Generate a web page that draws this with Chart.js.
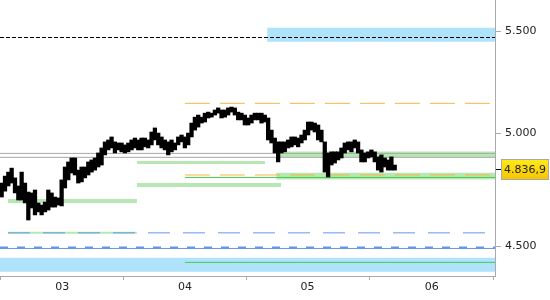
<!DOCTYPE html>
<html>
<head>
<meta charset="utf-8">
<script src="https://cdn.jsdelivr.net/npm/chart.js@4.4.0/dist/chart.umd.min.js"></script>
<style>
  body { margin: 0; background: #fff; }
  #wrap { width: 550px; height: 300px; }
</style>
</head>
<body>
<div id="wrap"><canvas id="priceChart" width="550" height="300"></canvas></div>
<script>
// bar highs / lows (one bar per index)
const highs = [4773,4804,4822,4840,4796,4760,4822,4773,4733,4729,4742,4685,4676,4689,4742,4729,4711,4707,4787,4845,
  4868,4886,4886,4831,4845,4845,4868,4877,4886,4909,4932,4960,4969,4983,4960,4955,4955,4946,4955,4969,
  4978,4969,4978,4978,4969,5006,5025,5001,4983,4969,4960,4969,4955,4983,4992,4983,5001,5048,5076,5086,
  5076,5095,5100,5095,5110,5120,5110,5110,5120,5124,5120,5100,5095,5086,5072,5086,5095,5095,5095,5086,
  5072,5015,4978,4960,4960,4960,4969,4983,4983,4978,4992,5015,5053,5053,5048,5039,5015,4960,4909,4914,
  4914,4914,4932,4955,4960,4960,4969,4960,4923,4909,4914,4923,4914,4891,4900,4886,4877,4891,4854];
const lows = [4711,4737,4760,4773,4729,4698,4698,4685,4611,4663,4633,4646,4633,4646,4654,4667,4667,4676,4672,4751,
  4787,4818,4809,4773,4778,4796,4809,4822,4831,4845,4854,4900,4923,4932,4909,4923,4914,4909,4914,4923,
  4932,4923,4923,4937,4932,4946,4969,4946,4932,4923,4900,4914,4923,4946,4960,4932,4946,4983,5015,5029,
  5048,5053,5072,5076,5086,5095,5072,5076,5086,5100,5086,5063,5063,5039,5039,5048,5063,5063,5048,5053,
  4969,4955,4909,4868,4909,4914,4932,4937,4946,4937,4955,4969,4992,5015,5006,4969,4960,4822,4800,4854,
  4863,4877,4886,4909,4923,4914,4932,4909,4868,4868,4886,4891,4868,4831,4822,4845,4831,4831,4831];
const lastClose = 4836.9;

const monthLabels = ['03', '04', '05', '06'];
const monthStart = [18.2, 55.0, 91.8, 129.1];
const yTicks = [4500, 5000, 5500];

// price zones: low, high, from, to
const blueZones = [[5447, 5518, 79.7, 148.1], [4393, 4451, -0.5, 148.1]];
const greenZones = [[4685, 4702, 1.9, 40.6], [4859, 4872, 40.6, 79.1], [4755, 4773, 40.6, 83.9],
  [4890, 4916, 82.4, 148.1], [4789, 4819, 82.4, 148.1]];

// single levels: value, from, to
const blackLevels = [[5468, -0.5, 148.1]];
const orangeLevels = [[5142, 55.0, 148.1], [4809, 55.0, 148.1]];
const grayLevels = [[4907, -0.5, 148.1], [4889, -0.5, 148.1]];
const greenLevels = [[4798, 55.0, 148.1], [4432, 55.0, 148.1]];
const paleGreenLevels = [[4556, 1.9, 40.6]];
const blueDashLevels = [[4556, 1.9, 146.6]];
const blueLevels = [[4490, -0.5, 148.1]];
const blueThickLevels = [[4494, -0.5, 148.1]];

function hline(l, color, width, dash, order) {
    return {
        type: 'line',
        data: [{x: l[1], y: l[0]}, {x: l[2], y: l[0]}],
        borderColor: color,
        borderWidth: width,
        borderDash: dash,
        pointRadius: 0,
        fill: false,
        order: order
    };
}

function zone(z, color) {
    return {
        type: 'line',
        data: [{x: z[2], y: z[1]}, {x: z[3], y: z[1]}],
        borderWidth: 0,
        borderColor: color,
        backgroundColor: color,
        fill: {value: z[0]},
        pointRadius: 0,
        order: 5
    };
}

var datasets = [{
    type: 'bar',
    data: lows.map((lo, i) => ({x: i, y: [lo, highs[i]]})),
    backgroundColor: '#000000',
    barThickness: 3.6,
    order: 0
}];

blueZones.forEach(z => datasets.push(zone(z, '#aee3fb')));
greenZones.forEach(z => datasets.push(zone(z, '#b7e8b3')));
paleGreenLevels.forEach(l => datasets.push(hline(l, '#b7e8b3', 2, [], 4)));
grayLevels.forEach(l => datasets.push(hline(l, '#a8a8a8', 1, [], 2)));
orangeLevels.forEach(l => datasets.push(hline(l, '#f4b649', 1, [25, 10], 2)));
greenLevels.forEach(l => datasets.push(hline(l, '#4cc84c', 1, [], 2)));
blueDashLevels.forEach(l => datasets.push(hline(l, '#6497ee', 1, [22, 13], 2)));
blueLevels.forEach(l => datasets.push(hline(l, '#6497ee', 1, [], 2)));
blueThickLevels.forEach(l => datasets.push(hline(l, '#6497ee', 2, [8, 9], 2)));
blackLevels.forEach(l => datasets.push(hline(l, '#000000', 1, [4, 2], 1)));

function fmt(v) {
    return String(v).replace(/\B(?=(\d{3})+$)/g, '.');
}

const lastPriceTag = {
    id: 'lastPriceTag',
    afterDraw(chart) {
        const ctx = chart.ctx;
        const y = Math.round(chart.scales.y.getPixelForValue(lastClose)) + 0.5;
        const x0 = chart.chartArea.right;
        ctx.save();
        ctx.strokeStyle = '#000';
        ctx.lineWidth = 1;
        ctx.beginPath();
        ctx.moveTo(x0 + 1, y);
        ctx.lineTo(x0 + 6, y);
        ctx.stroke();
        const g = ctx.createLinearGradient(0, y - 10, 0, y + 10);
        g.addColorStop(0, '#ffea1c');
        g.addColorStop(1, '#f6c400');
        ctx.fillStyle = g;
        ctx.fillRect(x0 + 7, y - 10, 46, 20);
        ctx.strokeStyle = '#a8a8a8';
        ctx.strokeRect(x0 + 6.5, y - 10, 47, 20);
        ctx.fillStyle = '#222';
        ctx.font = '11px "DejaVu Sans"';
        ctx.textBaseline = 'middle';
        ctx.fillText('4.836,9', x0 + 9, y + 0.5);
        ctx.restore();
    }
};

const config = {
    data: {datasets: datasets},
    options: {
        responsive: false,
        animation: false,
        layout: {padding: 0},
        plugins: {legend: {display: false}, tooltip: {enabled: false}},
        scales: {
            x: {
                type: 'linear',
                min: -0.5,
                max: 148.1,
                bounds: 'data',
                offset: false,
                afterFit: s => { s.height = 24; s.paddingLeft = 0; s.paddingRight = 0; },
                afterBuildTicks: s => { s.ticks = monthStart.map(v => ({value: v})); },
                grid: {drawOnChartArea: false, drawTicks: true, tickLength: 4, color: '#aaaaaa'},
                border: {color: '#aaaaaa'},
                ticks: {
                    autoSkip: false, maxRotation: 0, padding: 1, color: '#222',
                    font: {family: 'DejaVu Sans', size: 11},
                    callback: (v, i) => monthLabels[i]
                }
            },
            y: {
                type: 'logarithmic',
                position: 'right',
                min: 4376,
                max: 5663,
                bounds: 'data',
                afterFit: s => { s.width = 55; s.paddingTop = 0; s.paddingBottom = 0; },
                afterBuildTicks: s => { s.ticks = yTicks.map(v => ({value: v})); },
                grid: {drawOnChartArea: false, drawTicks: true, tickLength: 6, color: '#aaaaaa'},
                border: {color: '#aaaaaa'},
                ticks: {
                    autoSkip: false, padding: 4, color: '#222',
                    font: {family: 'DejaVu Sans', size: 11},
                    callback: v => fmt(v)
                }
            }
        }
    },
    plugins: [lastPriceTag]
};

const priceChart = new Chart(document.getElementById('priceChart'), config);
</script>
</body>
</html>
